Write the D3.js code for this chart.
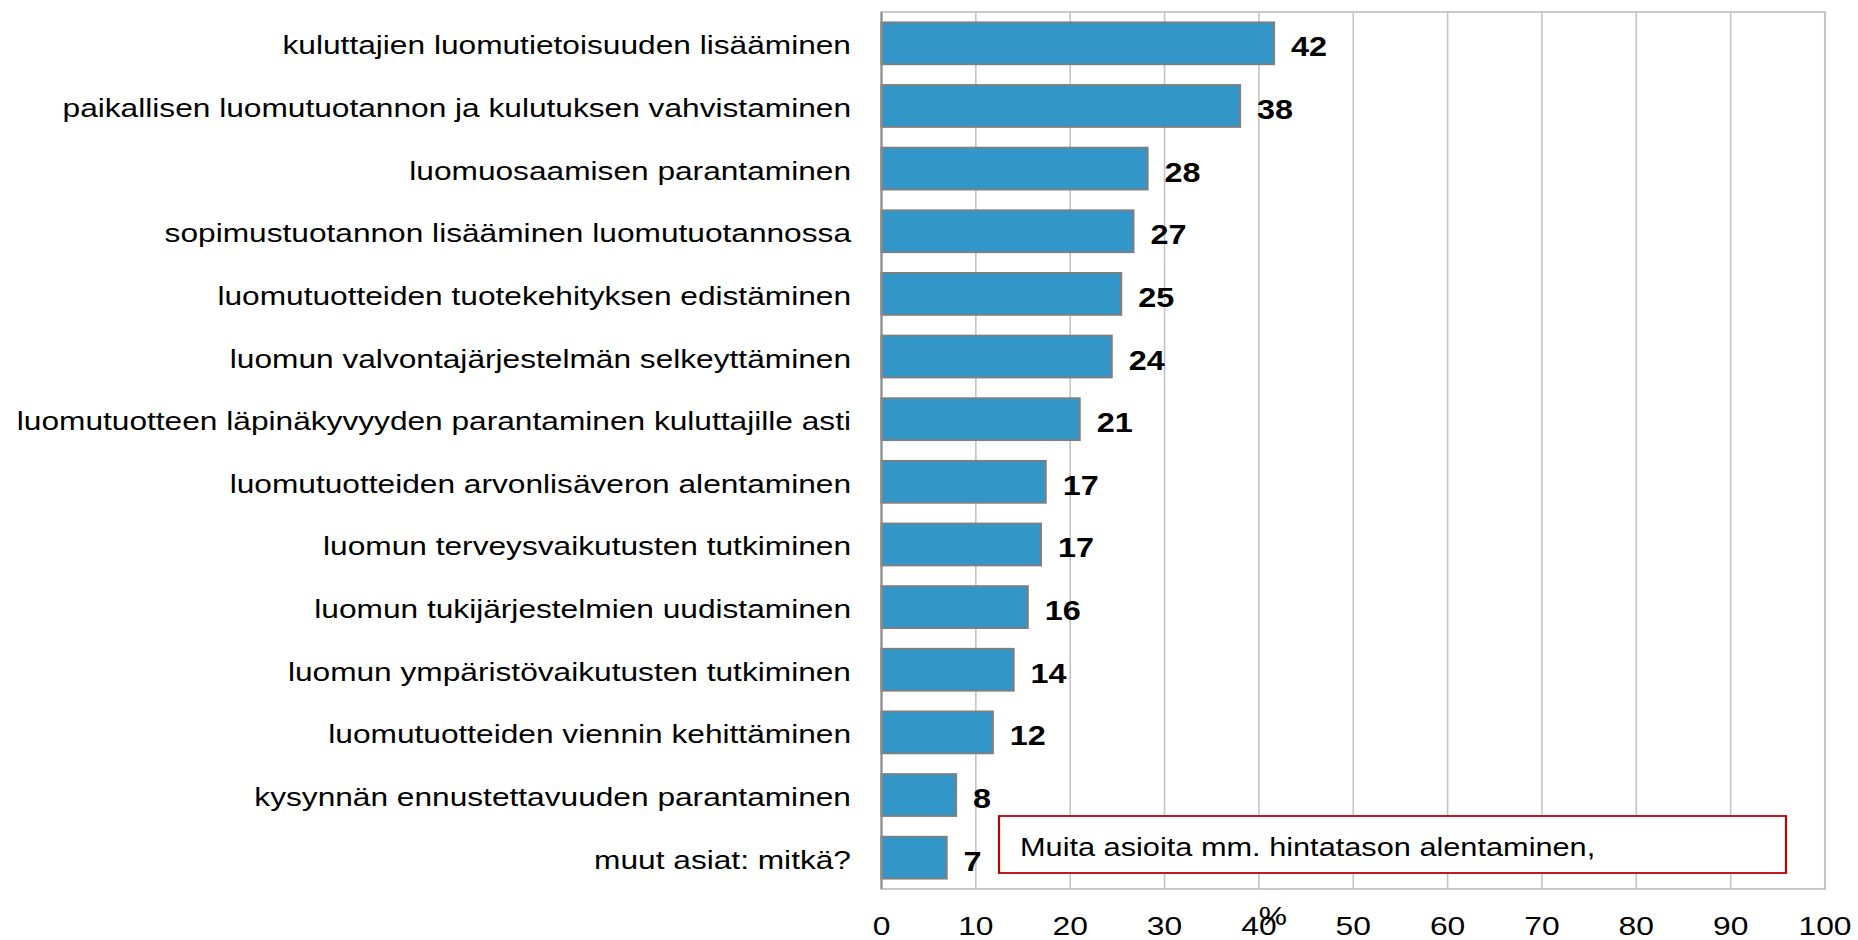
<!DOCTYPE html>
<html>
<head>
<meta charset="utf-8">
<script src="https://cdn.jsdelivr.net/npm/d3@7"></script>
<style>
  html, body { margin: 0; padding: 0; background: #fff; overflow: hidden; }
  svg { display: block; }
  text { font-family: "Liberation Sans", Arial, sans-serif; }
</style>
</head>
<body>
<svg id="chart"></svg>
<script>
// ---- data ----
const categories = [
  "kuluttajien luomutietoisuuden lisääminen",
  "paikallisen luomutuotannon ja kulutuksen vahvistaminen",
  "luomuosaamisen parantaminen",
  "sopimustuotannon lisääminen luomutuotannossa",
  "luomutuotteiden tuotekehityksen edistäminen",
  "luomun valvontajärjestelmän selkeyttäminen",
  "luomutuotteen läpinäkyvyyden parantaminen kuluttajille asti",
  "luomutuotteiden arvonlisäveron alentaminen",
  "luomun terveysvaikutusten tutkiminen",
  "luomun tukijärjestelmien uudistaminen",
  "luomun ympäristövaikutusten tutkiminen",
  "luomutuotteiden viennin kehittäminen",
  "kysynnän ennustettavuuden parantaminen",
  "muut asiat: mitkä?"
];
const values = [41.6, 38.0, 28.2, 26.7, 25.4, 24.4, 21.0, 17.4, 16.9, 15.5, 14.0, 11.8, 7.9, 6.9];
const valueLabels = ["42", "38", "28", "27", "25", "24", "21", "17", "17", "16", "14", "12", "8", "7"];
const xTicks = [0, 10, 20, 30, 40, 50, 60, 70, 80, 90, 100];
const axisTitle = "%";
const noteText = "Muita asioita mm. hintatason alentaminen,";

// ---- layout (internal units; drawing is stretched horizontally) ----
const W = 1858, H = 940, SX = 1.2;
const IW = W / SX;
const svg = d3.select("#chart")
  .attr("width", W).attr("height", H)
  .attr("viewBox", `0 0 ${IW} ${H}`)
  .attr("preserveAspectRatio", "none");

const plot = { left: 881.5 / SX, right: 1825 / SX, top: 12, bottom: 889 };

const x = d3.scaleLinear().domain([0, 100]).range([plot.left, plot.right]);
const y = d3.scaleBand().domain(categories).range([plot.top, plot.bottom])
  .paddingInner(0.33).paddingOuter(0.165);

// gridlines
svg.append("g").selectAll("line").data(xTicks.slice(1)).join("line")
  .attr("x1", d => x(d)).attr("x2", d => x(d))
  .attr("y1", plot.top).attr("y2", plot.bottom)
  .attr("stroke", "#c4c4c4").attr("stroke-width", 1.6 / SX);

// plot border
svg.append("rect")
  .attr("x", plot.left).attr("y", plot.top)
  .attr("width", plot.right - plot.left).attr("height", plot.bottom - plot.top)
  .attr("fill", "none").attr("stroke", "#c4c4c4").attr("stroke-width", 1.8);

// bars
svg.append("g").selectAll("rect").data(values).join("rect")
  .attr("x", x(0))
  .attr("y", (d, i) => y(categories[i]))
  .attr("width", d => x(d) - x(0))
  .attr("height", y.bandwidth())
  .attr("fill", "#3396c8")
  .attr("stroke", "#7f7f7f").attr("stroke-width", 1.8);

// left axis line
svg.append("line")
  .attr("x1", plot.left).attr("x2", plot.left)
  .attr("y1", plot.top).attr("y2", plot.bottom)
  .attr("stroke", "#8c8c8c").attr("stroke-width", 2 / SX);

// category labels
svg.append("g").selectAll("text").data(categories).join("text")
  .attr("x", 851 / SX)
  .attr("y", d => y(d) + y.bandwidth() / 2 + 11)
  .attr("text-anchor", "end")
  .attr("font-size", 26.4)
  .attr("fill", "#000")
  .text(d => d);

// value labels
svg.append("g").selectAll("text").data(values).join("text")
  .attr("x", d => x(d) + 17 / SX)
  .attr("y", (d, i) => y(categories[i]) + y.bandwidth() / 2 + 13)
  .attr("font-size", 27)
  .attr("font-weight", "bold")
  .attr("fill", "#000")
  .text((d, i) => valueLabels[i]);

// x tick labels
svg.append("g").selectAll("text").data(xTicks).join("text")
  .attr("x", d => x(d))
  .attr("y", 935)
  .attr("text-anchor", "middle")
  .attr("font-size", 26.5)
  .attr("fill", "#000")
  .text(d => d);

// axis title
svg.append("text")
  .attr("x", 1273 / SX).attr("y", 925)
  .attr("text-anchor", "middle")
  .attr("font-size", 26.5)
  .attr("fill", "#000")
  .text(axisTitle);

// annotation box
svg.append("rect")
  .attr("x", 999 / SX).attr("y", 816)
  .attr("width", (1786 - 999) / SX).attr("height", 873 - 816)
  .attr("fill", "#fff").attr("stroke", "#c00000").attr("stroke-width", 1.8);
svg.append("text")
  .attr("x", 1020 / SX).attr("y", 856)
  .attr("font-size", 25.6)
  .attr("fill", "#000")
  .text(noteText);
</script>
</body>
</html>
